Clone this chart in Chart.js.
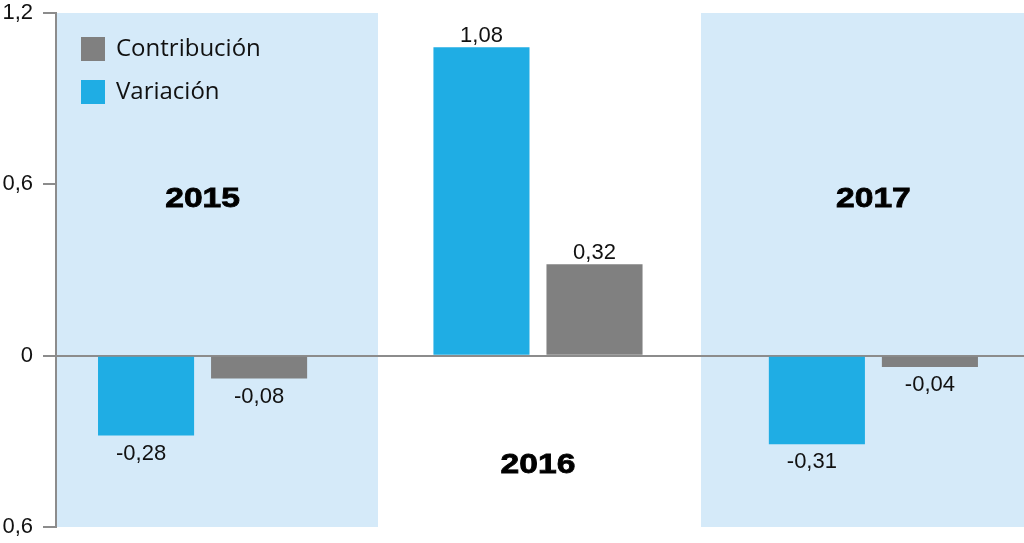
<!DOCTYPE html>
<html lang="es">
<head>
  <meta charset="UTF-8">
  <title>Contribución y variación 2015-2017</title>
  <script src="https://cdn.jsdelivr.net/npm/chart.js"></script>
  <style>
    html, body { margin: 0; padding: 0; background: #fff; overflow: hidden; }
    #wrap { position: relative; width: 1024px; height: 543px; }
  </style>
</head>
<body>
  <div id="wrap">
    <canvas id="chart"></canvas>
  </div>

  <script>
    // data
    const years = ["2015", "2016", "2017"];
    const variacion = [-0.28, 1.08, -0.31];
    const contribucion = [-0.08, 0.32, -0.04];
    const yTicks = [-0.6, 0, 0.6, 1.2];
    const yTickLabels = ["0,6", "0", "0,6", "1,2"];

    const BLUE = "#1fade4";
    const GRAY = "#808080";
    const PANEL = "#d5eaf9";
    const AXIS = "#8c8c8c";

    // shaded year bands, in x-axis units (group centres are 0, 1, 2)
    const bands = [[-0.437, 0.523], [1.486, 2.45]];
    // where the year captions sit, in y-axis units
    const yearCaptionY = [0.548, -0.385, 0.548];

    const fmt = v => v.toFixed(2).replace(".", ",");
    const pts = arr => arr.map((v, i) => ({ x: i, y: v }));

    const decor = {
      id: "decor",
      beforeDraw(chart) {
        const { ctx, chartArea, scales } = chart;
        ctx.save();
        ctx.fillStyle = PANEL;
        bands.forEach(([a, b]) => {
          const x0 = Math.max(scales.x.getPixelForValue(a), chartArea.left);
          const x1 = Math.min(scales.x.getPixelForValue(b), chartArea.right);
          ctx.fillRect(x0, chartArea.top, x1 - x0, chartArea.bottom - chartArea.top);
        });
        ctx.restore();
      },
      afterDatasetsDraw(chart) {
        const { ctx, scales } = chart;
        ctx.save();

        // value labels
        ctx.font = "22px 'Liberation Sans', Arial, sans-serif";
        ctx.fillStyle = "#111";
        ctx.textAlign = "center";
        chart.data.datasets.forEach((ds, di) => {
          chart.getDatasetMeta(di).data.forEach((bar, i) => {
            const v = ds.data[i].y;
            if (v >= 0) {
              ctx.textBaseline = "alphabetic";
              ctx.fillText(fmt(v), bar.x, bar.y - 5);
            } else {
              ctx.textBaseline = "top";
              ctx.fillText(fmt(v), bar.x - (di === 0 ? 5 : 0), bar.y + 7);
            }
          });
        });

        // year captions (heavy, slightly wide)
        ctx.font = "bold 28px 'Liberation Sans', Arial, sans-serif";
        ctx.fillStyle = "#000";
        ctx.strokeStyle = "#000";
        ctx.lineWidth = 0.8;
        ctx.textBaseline = "middle";
        years.forEach((yr, i) => {
          const px = scales.x.getPixelForValue(i);
          const py = scales.y.getPixelForValue(yearCaptionY[i]);
          ctx.save();
          ctx.translate(px, py);
          ctx.scale(1.2, 1);
          ctx.fillText(yr, 0, 0);
          ctx.strokeText(yr, 0, 0);
          ctx.restore();
        });

        // legend
        const items = [["Contribución", GRAY], ["Variación", BLUE]];
        ctx.font = "24px 'Open Sans', sans-serif";
        ctx.textAlign = "left";
        ctx.textBaseline = "middle";
        items.forEach(([label, color], k) => {
          const top = 37 + k * 43;
          ctx.fillStyle = color;
          ctx.fillRect(81, top, 24, 24);
          ctx.fillStyle = "#111";
          ctx.fillText(label, 116, top + 12);
        });

        ctx.restore();
      }
    };

    new Chart(document.getElementById("chart"), {
      type: "bar",
      data: {
        datasets: [
          { label: "Variación", data: pts(variacion), backgroundColor: BLUE },
          { label: "Contribución", data: pts(contribucion), backgroundColor: GRAY }
        ]
      },
      options: {
        responsive: true,
        maintainAspectRatio: false,
        animation: false,
        categoryPercentage: 0.674,
        barPercentage: 0.85,
        layout: { padding: { top: 13, bottom: 16, left: 0, right: 0 } },
        plugins: {
          legend: { display: false },
          tooltip: { enabled: false }
        },
        scales: {
          x: {
            type: "linear",
            display: false,
            min: -0.437,
            max: 2.449,
            offset: false,
            afterBuildTicks: s => { s.ticks = years.map((_, i) => ({ value: i })); }
          },
          y: {
            min: -0.6,
            max: 1.2,
            afterBuildTicks: s => { s.ticks = yTicks.map(v => ({ value: v })); },
            afterFit: s => {
              s.width = 56;
              s.paddingTop = 0;
              s.paddingBottom = 0;
            },
            border: { display: true, color: AXIS, width: 2 },
            grid: {
              drawOnChartArea: true,
              drawTicks: true,
              tickLength: 13,
              lineWidth: 2,
              tickColor: AXIS,
              color: c => (c.tick && c.tick.value === 0 ? AXIS : "rgba(0,0,0,0)")
            },
            ticks: {
              padding: 10,
              color: "#111",
              font: { family: "'Liberation Sans', Arial, sans-serif", size: 22 },
              callback: value => {
                const i = yTicks.findIndex(t => Math.abs(t - value) < 1e-9);
                return i >= 0 ? yTickLabels[i] : "";
              }
            }
          }
        }
      },
      plugins: [decor]
    });
  </script>
</body>
</html>
